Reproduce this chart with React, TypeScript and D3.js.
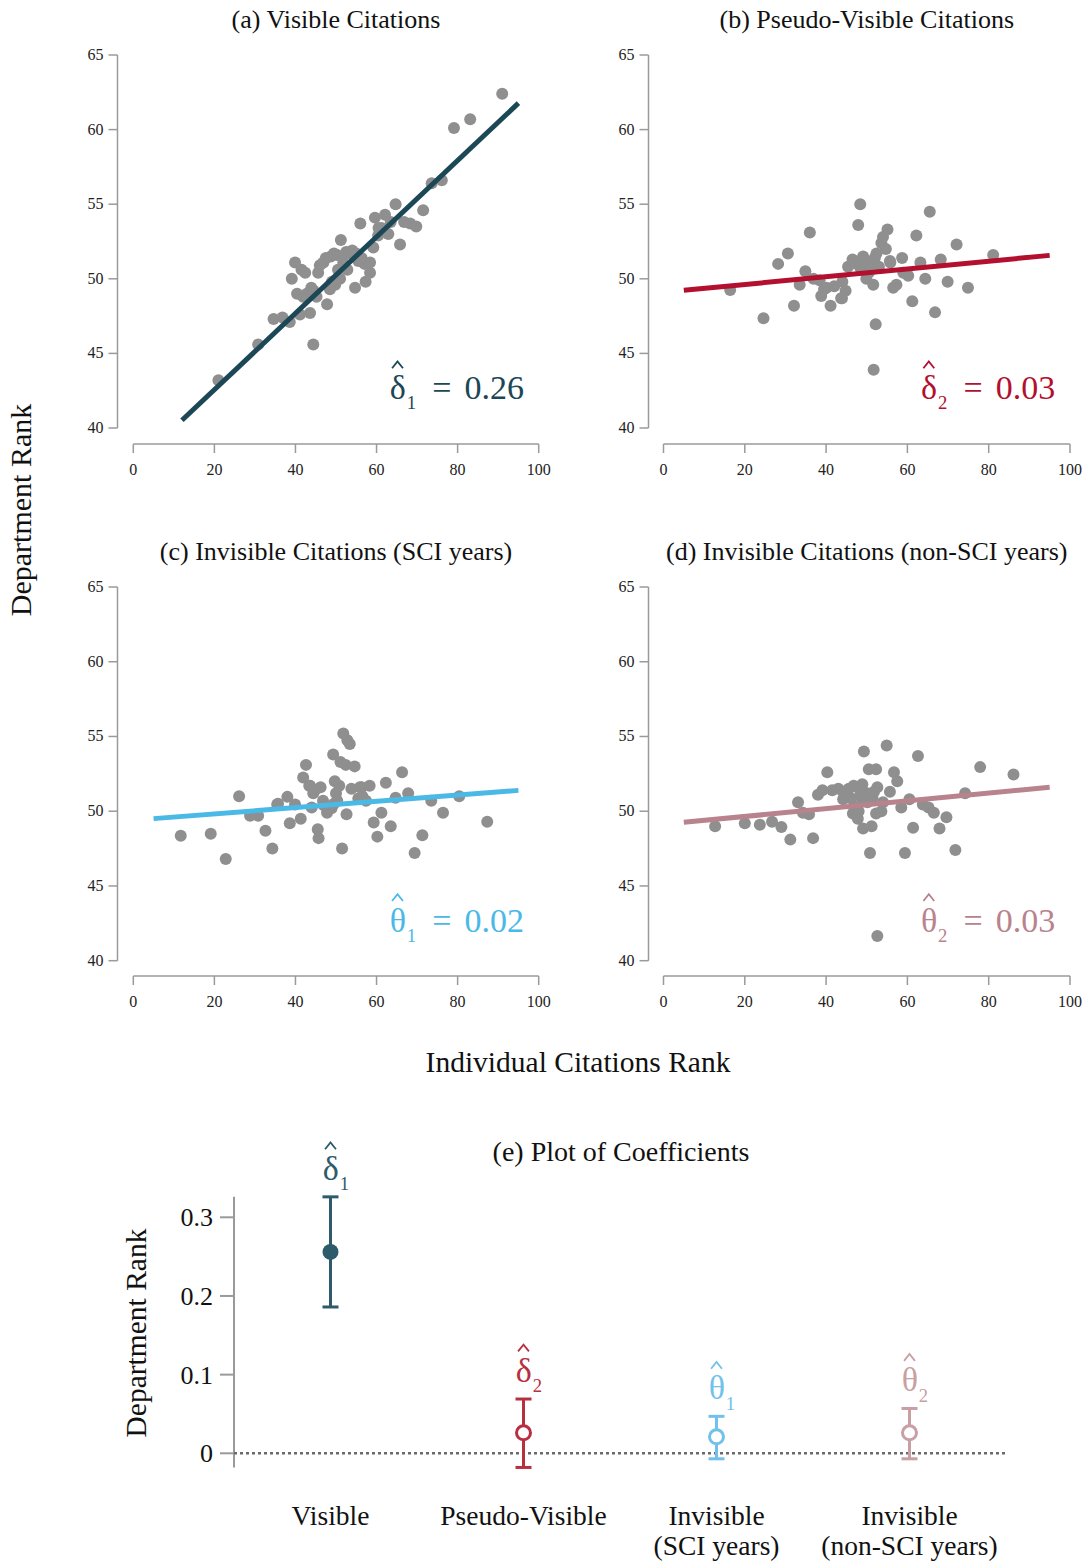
import React from "react";
import * as d3 from "d3";

// ---- data -------------------------------------------------------------
const panelTitles = [
  "(a) Visible Citations",
  "(b) Pseudo-Visible Citations",
  "(c) Invisible Citations (SCI years)",
  "(d) Invisible Citations (non-SCI years)",
];
const estimateSymbols = ["δ", "δ", "θ", "θ"];
const estimateSubscripts = ["1", "2", "1", "2"];
const coefficients = [0.256, 0.026, 0.021, 0.026];
const ciLow = [0.186, -0.018, -0.007, -0.007];
const ciHigh = [0.326, 0.069, 0.047, 0.057];
const fitIntercepts = [37.45, 49.1, 49.4, 49.13];
const fitStart = [12, 5, 5, 5];
const fitEnd = [95, 95, 95, 95];

const coefCategories = [
  ["Visible"],
  ["Pseudo-Visible"],
  ["Invisible", "(SCI years)"],
  ["Invisible", "(non-SCI years)"],
];

const xTicks = [0, 20, 40, 60, 80, 100];
const yTicks = [40, 45, 50, 55, 60, 65];
const coefTicks = [0, 0.1, 0.2, 0.3];

const visiblePoints: [number, number][] = [
  [21.0, 43.2], [30.8, 45.6], [34.6, 47.3], [36.8, 47.4], [38.6, 47.1], [44.4, 45.6],
  [43.6, 47.7], [41.1, 47.6], [39.1, 50.0], [39.9, 51.1], [41.5, 50.6], [42.4, 50.4],
  [40.4, 49.0], [41.9, 48.8], [43.9, 49.4], [45.2, 48.8], [47.8, 48.3], [45.6, 50.4],
  [46.9, 51.1], [48.7, 51.5], [50.2, 51.6], [51.2, 52.6], [48.5, 49.3], [49.8, 49.6],
  [51.0, 50.0], [52.8, 50.6], [51.8, 51.1], [53.5, 51.7], [54.7, 49.4], [56.3, 51.4],
  [58.4, 51.1], [58.4, 50.4], [57.3, 49.8], [56.0, 53.7], [59.2, 52.1], [59.6, 54.1],
  [60.4, 52.9], [61.2, 53.4], [62.1, 54.3], [62.9, 53.0], [64.7, 55.0], [65.8, 52.3],
  [66.8, 53.8], [68.3, 53.7], [69.8, 53.5], [71.5, 54.6], [73.6, 56.4], [76.1, 56.6],
  [79.1, 60.1], [83.1, 60.7], [91.0, 62.4], [47.5, 51.4], [49.5, 51.7], [52.5, 51.8],
  [54.0, 51.9], [55.0, 51.7], [55.5, 51.2], [57.0, 51.0], [50.5, 50.6], [46.0, 50.9],
  [49.0, 49.8], [42.8, 49.0], [44.5, 49.2], [63.5, 53.8], [60.5, 53.4],
];

const pseudoPoints: [number, number][] = [
  [16.4, 49.25], [24.6, 47.35], [28.2, 51.0], [30.6, 51.7], [32.1, 48.2], [33.5, 49.6],
  [34.9, 50.5], [36.0, 53.1], [36.9, 50.0], [38.4, 49.9], [38.8, 48.85], [40.1, 49.4],
  [41.1, 48.2], [42.0, 49.5], [43.9, 48.7], [44.8, 49.2], [45.4, 50.8], [46.5, 51.3],
  [47.9, 53.6], [48.4, 55.0], [49.1, 51.5], [47.5, 51.0], [48.5, 50.7], [50.0, 51.2],
  [50.5, 50.4], [51.0, 51.0], [49.9, 50.0], [51.6, 49.6], [52.2, 46.95], [51.7, 43.9],
  [52.4, 51.7], [53.6, 52.4], [54.0, 52.8], [55.1, 53.3], [54.7, 52.0], [55.8, 51.1],
  [56.5, 49.4], [57.3, 49.6], [58.7, 51.4], [60.2, 50.2], [59.0, 50.4], [61.2, 48.5],
  [62.2, 52.9], [63.2, 51.1], [64.4, 50.0], [65.5, 54.5], [66.8, 47.75], [68.2, 51.3],
  [69.9, 49.8], [72.1, 52.3], [74.9, 49.4], [81.1, 51.6], [55.7, 51.2], [43.7, 48.7],
  [39.5, 49.3], [52.0, 51.4], [53.0, 50.8], [44.0, 49.8],
];

const invisibleSciPoints: [number, number][] = [
  [11.7, 48.36], [19.1, 48.5], [22.8, 46.8], [26.1, 51.0], [28.8, 49.7], [30.8, 49.7],
  [32.6, 48.7], [34.3, 47.5], [35.5, 50.45], [38.0, 50.96], [38.6, 49.2], [39.9, 50.45],
  [41.3, 49.5], [41.9, 52.25], [42.6, 53.1], [43.4, 51.7], [44.0, 50.25], [44.4, 51.2],
  [45.5, 48.8], [45.7, 48.2], [46.2, 51.6], [46.8, 50.7], [47.8, 49.9], [48.9, 50.2],
  [49.3, 53.8], [50.0, 51.2], [50.8, 51.7], [51.1, 53.3], [50.3, 50.7], [51.5, 47.5],
  [51.8, 55.2], [52.8, 54.75], [52.4, 53.1], [52.6, 49.8], [53.4, 54.5], [53.8, 51.5],
  [54.6, 53.0], [55.5, 50.85], [56.3, 51.6], [57.4, 50.7], [58.3, 51.7], [59.3, 49.25],
  [60.2, 48.3], [61.2, 49.9], [62.3, 51.9], [63.5, 49.0], [64.7, 50.9], [66.3, 52.6],
  [67.8, 51.2], [69.4, 47.2], [71.3, 48.4], [73.5, 50.7], [76.4, 49.9], [80.4, 51.0],
  [87.3, 49.3], [43.6, 51.7], [44.8, 51.4], [49.7, 52.0], [55.9, 51.6], [35.7, 50.5],
  [47.0, 50.4], [49.5, 50.5], [56.5, 51.0],
];

const invisibleNonSciPoints: [number, number][] = [
  [12.7, 49.0], [20.0, 49.2], [23.7, 49.1], [26.7, 49.3], [29.0, 48.95], [31.2, 48.1],
  [33.1, 50.6], [34.3, 49.9], [35.8, 49.8], [36.8, 48.2], [38.0, 51.1], [39.1, 51.4],
  [40.3, 52.6], [41.5, 51.4], [43.0, 51.5], [44.2, 50.8], [45.2, 51.4], [46.2, 50.85],
  [46.6, 49.85], [47.7, 51.6], [47.8, 49.5], [48.9, 51.8], [49.3, 54.0], [49.1, 48.85],
  [50.1, 51.2], [50.5, 52.8], [50.8, 47.2], [51.2, 49.0], [52.3, 52.8], [52.3, 49.85],
  [52.6, 51.6], [52.6, 41.65], [53.6, 50.0], [54.0, 50.6], [54.9, 54.4], [55.7, 51.3],
  [56.7, 52.6], [57.5, 52.0], [58.5, 50.25], [59.4, 47.2], [60.5, 50.8], [61.4, 48.9],
  [62.6, 53.7], [63.8, 50.45], [65.2, 50.25], [66.5, 49.9], [67.9, 48.85], [69.6, 49.6],
  [71.8, 47.4], [74.2, 51.2], [77.9, 52.95], [86.1, 52.45], [45.6, 51.5], [46.8, 51.7],
  [49.0, 50.8], [50.2, 50.6], [51.4, 50.9], [48.5, 51.2], [47.0, 50.3], [44.5, 51.1],
  [51.8, 51.3], [48.0, 50.0],
];

const panelPoints = [visiblePoints, pseudoPoints, invisibleSciPoints, invisibleNonSciPoints];

// ---- styling ----------------------------------------------------------
const FONT = "'Liberation Serif', 'DejaVu Serif', serif";
const lineColors = ["#1b4756", "#b30f2f", "#4bb9e6", "#b8838c"];
const coefColors = ["#2d5b6c", "#b8303f", "#72c1ea", "#c79fa4"];
const axisGray = "#9a9a9a";
const dotGray = "#8f8f8f";

const W = 1088;
const H = 1563;

type Geometry = {
  axisX: number;
  x0: number;
  x1: number;
  yTop: number;
  yBot: number;
  xAxisY: number;
  titleY: number;
};

const geometries: Geometry[] = [
  { axisX: 117.5, x0: 133.3, x1: 538.7, yTop: 55, yBot: 428, xAxisY: 444, titleY: 28 },
  { axisX: 648.5, x0: 663.5, x1: 1070, yTop: 55, yBot: 428, xAxisY: 444, titleY: 28 },
  { axisX: 117.5, x0: 133.3, x1: 538.7, yTop: 587, yBot: 960.7, xAxisY: 976, titleY: 560 },
  { axisX: 648.5, x0: 663.5, x1: 1070, yTop: 587, yBot: 960.7, xAxisY: 976, titleY: 560 },
];

// Estimator symbol with a hat accent (drawn as a small chevron) and a subscript.
function EstimateLabel({
  x, y, symbol, sub, color, size, value, anchorMiddle,
}: {
  x: number; y: number; symbol: string; sub: string; color: string; size: number;
  value?: string; anchorMiddle?: boolean;
}) {
  const symW = size * 0.46;
  const left = anchorMiddle ? x - symW / 2 : x;
  const hx = left + symW / 2;
  const hTop = y - size * 1.1;
  const hw = size * 0.16;
  const hh = size * 0.2;
  return (
    <g fill={color} fontFamily={FONT}>
      <path
        d={`M${hx - hw},${hTop + hh} L${hx},${hTop} L${hx + hw},${hTop + hh}`}
        fill="none"
        stroke={color}
        strokeWidth={1.8}
      />
      <text x={left} y={y} fontSize={size}>
        {symbol}
      </text>
      <text x={left + size * 0.5} y={y + size * 0.3} fontSize={size * 0.55}>
        {sub}
      </text>
      {value ? (
        <>
          <text x={left + size * 1.25} y={y} fontSize={size}>
            =
          </text>
          <text x={left + size * 2.2} y={y} fontSize={size}>
            {value}
          </text>
        </>
      ) : null}
    </g>
  );
}

function Scatter({ i }: { i: number }) {
  const g = geometries[i];
  const x = d3.scaleLinear().domain([0, 100]).range([g.x0, g.x1]);
  const y = d3.scaleLinear().domain([40, 65]).range([g.yBot, g.yTop]);
  const slope = coefficients[i];
  const b = fitIntercepts[i];
  const fit = d3
    .line<number>()
    .x((d) => x(d))
    .y((d) => y(b + slope * d));
  return (
    <g>
      <text
        x={(g.x0 + g.x1) / 2}
        y={g.titleY}
        fontFamily={FONT}
        fontSize={26}
        textAnchor="middle"
        fill="#111"
      >
        {panelTitles[i]}
      </text>
      {/* y axis */}
      <line x1={g.axisX} x2={g.axisX} y1={y(40)} y2={y(65)} stroke={axisGray} strokeWidth={1.5} />
      {yTicks.map((t) => (
        <g key={t}>
          <line x1={g.axisX - 9} x2={g.axisX} y1={y(t)} y2={y(t)} stroke={axisGray} strokeWidth={1.5} />
          <text
            x={g.axisX - 14}
            y={y(t) + 5}
            fontFamily={FONT}
            fontSize={16}
            textAnchor="end"
            fill="#222"
          >
            {t}
          </text>
        </g>
      ))}
      {/* x axis */}
      <line x1={x(0)} x2={x(100)} y1={g.xAxisY} y2={g.xAxisY} stroke={axisGray} strokeWidth={1.5} />
      {xTicks.map((t) => (
        <g key={t}>
          <line x1={x(t)} x2={x(t)} y1={g.xAxisY} y2={g.xAxisY + 9} stroke={axisGray} strokeWidth={1.5} />
          <text
            x={x(t)}
            y={g.xAxisY + 31}
            fontFamily={FONT}
            fontSize={16}
            textAnchor="middle"
            fill="#222"
          >
            {t}
          </text>
        </g>
      ))}
      {/* observations */}
      {panelPoints[i].map((p, k) => (
        <circle key={k} cx={x(p[0])} cy={y(p[1])} r={6} fill={dotGray} />
      ))}
      {/* fitted line */}
      <path
        d={fit([fitStart[i], fitEnd[i]]) || ""}
        stroke={lineColors[i]}
        strokeWidth={5}
        fill="none"
      />
      <EstimateLabel
        x={g.x1 - 149}
        y={y(41.95)}
        symbol={estimateSymbols[i]}
        sub={estimateSubscripts[i]}
        color={lineColors[i]}
        size={34}
        value={d3.format(".2f")(coefficients[i])}
      />
    </g>
  );
}

function CoefPlot() {
  const axisX = 234;
  const x = d3
    .scalePoint<number>()
    .domain(d3.range(coefficients.length))
    .range([axisX, 1006])
    .padding(0.5);
  const y = d3.scaleLinear().domain([0, 0.3]).range([1453.3, 1217.3]);
  const lo = d3.min(ciLow) as number;
  const hi = d3.max(ciHigh) as number;
  return (
    <g>
      <text x={621} y={1161} fontFamily={FONT} fontSize={28} textAnchor="middle" fill="#111">
        (e) Plot of Coefficients
      </text>
      <text
        transform={`translate(146, 1333) rotate(-90)`}
        fontFamily={FONT}
        fontSize={29.5}
        textAnchor="middle"
        fill="#111"
      >
        Department Rank
      </text>
      <line x1={axisX} x2={axisX} y1={y(lo)} y2={y(hi)} stroke={axisGray} strokeWidth={2} />
      {coefTicks.map((t) => (
        <g key={t}>
          <line x1={axisX - 14} x2={axisX} y1={y(t)} y2={y(t)} stroke={axisGray} strokeWidth={2} />
          <text
            x={axisX - 21}
            y={y(t) + 9}
            fontFamily={FONT}
            fontSize={26}
            textAnchor="end"
            fill="#111"
          >
            {String(t)}
          </text>
        </g>
      ))}
      <line
        x1={axisX}
        x2={1006}
        y1={y(0)}
        y2={y(0)}
        stroke="#6a6a6a"
        strokeWidth={2.5}
        strokeDasharray="3 3"
      />
      {coefficients.map((c, i) => {
        const cx = x(i) as number;
        const col = coefColors[i];
        return (
          <g key={i}>
            <line x1={cx} x2={cx} y1={y(ciLow[i])} y2={y(ciHigh[i])} stroke={col} strokeWidth={3} />
            <line x1={cx - 8} x2={cx + 8} y1={y(ciLow[i])} y2={y(ciLow[i])} stroke={col} strokeWidth={3} />
            <line x1={cx - 8} x2={cx + 8} y1={y(ciHigh[i])} y2={y(ciHigh[i])} stroke={col} strokeWidth={3} />
            {i === 0 ? (
              <circle cx={cx} cy={y(c)} r={8} fill={col} />
            ) : (
              <circle cx={cx} cy={y(c)} r={7} fill="#fff" stroke={col} strokeWidth={3} />
            )}
            <EstimateLabel
              x={cx}
              y={y(ciHigh[i]) - 17}
              symbol={estimateSymbols[i]}
              sub={estimateSubscripts[i]}
              color={col}
              size={34}
              anchorMiddle
            />
            {coefCategories[i].map((line, k) => (
              <text
                key={k}
                x={cx}
                y={1525 + k * 30}
                fontFamily={FONT}
                fontSize={27.5}
                textAnchor="middle"
                fill="#111"
              >
                {line}
              </text>
            ))}
          </g>
        );
      })}
    </g>
  );
}

export default function App() {
  return (
    <svg
      width={W}
      height={H}
      viewBox={`0 0 ${W} ${H}`}
      style={{ position: "absolute", left: 0, top: 0, background: "#fff" }}
    >
      <rect width={W} height={H} fill="#fff" />
      {geometries.map((_, i) => (
        <Scatter key={i} i={i} />
      ))}
      <text
        transform="translate(31, 510) rotate(-90)"
        fontFamily={FONT}
        fontSize={30}
        textAnchor="middle"
        fill="#111"
      >
        Department Rank
      </text>
      <text x={578} y={1072} fontFamily={FONT} fontSize={29.5} textAnchor="middle" fill="#111">
        Individual Citations Rank
      </text>
      <CoefPlot />
    </svg>
  );
}
